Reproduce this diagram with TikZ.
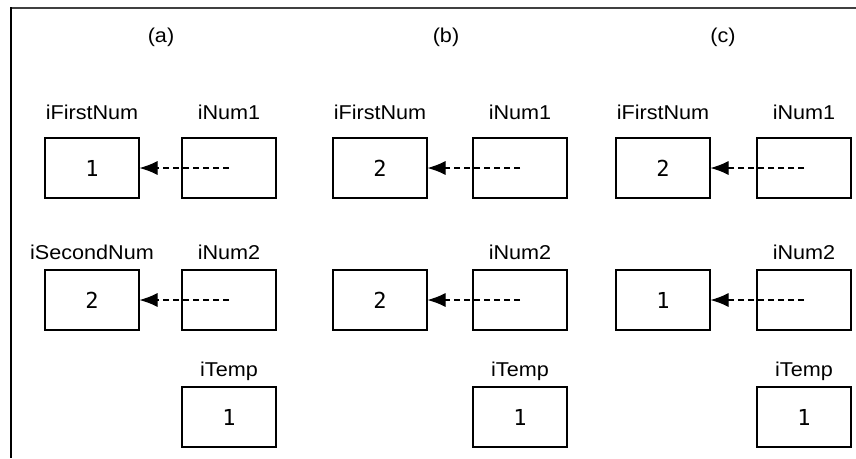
\documentclass[tikz,border=0pt]{standalone}
\usepackage{fontspec}
\setmainfont[FakeStretch=1.08]{Liberation Sans}
\newfontfamily\monofont{DejaVu Sans Mono}
\usetikzlibrary{arrows.meta}
\begin{document}
\begin{tikzpicture}[x=1pt,y=-1pt,
  vbox/.style={draw,line width=1.1pt,minimum width=94pt,minimum height=60pt,inner sep=0pt,
    font=\monofont\fontsize{22}{22}\selectfont},
  vlabel/.style={anchor=base,inner sep=0pt,font=\fontsize{20}{20}\selectfont},
  ptr/.style={dash pattern=on 6pt off 4pt,line width=1.1pt,-{Latex[length=18pt,width=14pt]}}]
\useasboundingbox (0,0) rectangle (856,458);
\draw[line width=1.5pt,black!75] (10,8) -- (856,8);
\draw[line width=2pt] (10.7,7.25) -- (10.7,458);
\foreach \tg/\tx/\lo/\ro/\na/\nb in {a/161/0/0/1/2, b/446/288/291/2/2, c/723/571/575/2/1}{
  \node[vlabel] (T\tg) at (\tx,42.5) {(\tg)};
  \node[vbox] (L1\tg) at (92+\lo,168) {\na};
  \node[vbox] (R1\tg) at (229+\ro,168) {};
  \node[vbox] (L2\tg) at (92+\lo,300) {\nb};
  \node[vbox] (R2\tg) at (229+\ro,300) {};
  \node[vbox] (Tmp\tg) at (229+\ro,417) {1};
  \node[vlabel] (LL1\tg) at (92+\lo,119.5) {iFirstNum};
  \node[vlabel] (RL1\tg) at (229+\ro,119.5) {iNum1};
  \node[vlabel] (RL2\tg) at (229+\ro,259.3) {iNum2};
  \node[vlabel] (TL\tg) at (229+\ro,376.7) {iTemp};
  \draw[ptr] (R1\tg.center) -- (L1\tg.east);
  \draw[ptr] (R2\tg.center) -- (L2\tg.east);
}
\node[vlabel] (LL2a) at (92,259.3) {iSecondNum};
\end{tikzpicture}
\end{document}
